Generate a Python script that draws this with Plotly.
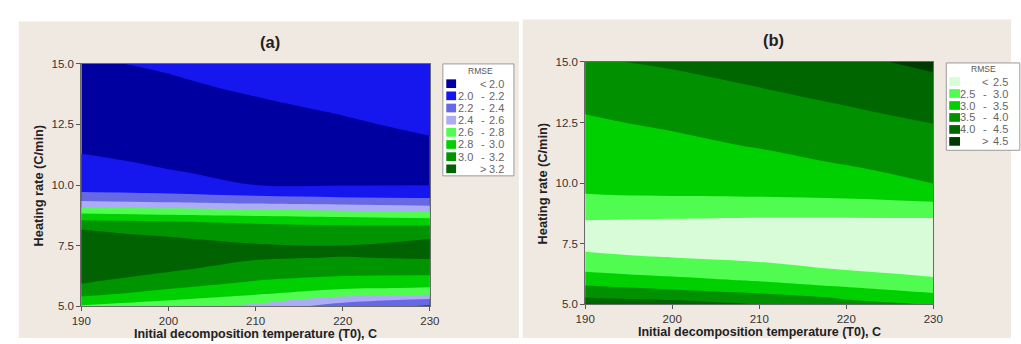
import plotly.graph_objects as go

W, H = 1021, 344

# ---------------- data ----------------
temp_x = [190, 200, 210, 220, 230]

rate_y_a = [5.0, 5.25, 5.5, 5.75, 6.0, 6.5, 7.0, 7.25, 7.5, 8.0, 8.25, 8.5, 8.75, 9.0, 9.25,
            9.5, 9.75, 10.0, 10.5, 11.0, 11.5, 12.0, 12.5, 13.0, 13.5, 14.0, 14.5, 15.0]
rmse_a = [
    [2.78, 2.6, 2.55, 2.3, 2.17],
    [2.925, 2.804, 2.683, 2.48, 2.35],
    [3.055, 2.913, 2.814, 2.679, 2.636],
    [3.162, 3.015, 2.9, 2.821, 2.788],
    [3.217, 3.09, 2.986, 2.928, 2.9],
    [3.268, 3.223, 3.116, 3.077, 3.081],
    [3.32, 3.312, 3.22, 3.193, 3.214],
    [3.296, 3.306, 3.25, 3.24, 3.249],
    [3.271, 3.267, 3.217, 3.201, 3.256],
    [3.222, 3.176, 3.111, 3.092, 3.157],
    [3.188, 3.09, 3.051, 3.036, 3.048],
    [3.036, 3.003, 2.969, 2.933, 2.896],
    [2.854, 2.815, 2.778, 2.746, 2.708],
    [2.667, 2.63, 2.592, 2.55, 2.508],
    [2.467, 2.425, 2.387, 2.356, 2.327],
    [2.283, 2.253, 2.226, 2.198, 2.182],
    [2.183, 2.165, 2.105, 2.076, 2.071],
    [2.152, 2.113, 1.999, 1.995, 1.996],
    [2.088, 2.01, 1.971, 1.966, 1.973],
    [2.024, 1.977, 1.944, 1.937, 1.95],
    [1.983, 1.951, 1.916, 1.93, 1.974],
    [1.955, 1.926, 1.911, 1.955, 1.998],
    [1.928, 1.90, 1.937, 1.98, 2.028],
    [1.90, 1.924, 1.964, 2.007, 2.058],
    [1.92, 1.948, 1.991, 2.04, 2.089],
    [1.94, 1.971, 2.02, 2.073, 2.119],
    [1.96, 1.995, 2.05, 2.107, 2.15],
    [1.98, 2.02, 2.08, 2.14, 2.18],
]

rate_y_b = [5.0, 5.25, 5.5, 5.75, 6.0, 6.25, 6.5, 7.0, 7.5, 8.0, 8.5, 9.0, 9.5, 10.0,
            10.5, 11.0, 11.5, 12.0, 12.5, 13.0, 13.5, 14.0, 14.5, 15.0]
rmse_b = [
    [4.55, 4.3, 3.99, 3.6, 3.48],
    [4.024, 3.872, 3.721, 3.469, 3.219],
    [3.765, 3.606, 3.439, 3.208, 2.967],
    [3.52, 3.356, 3.184, 2.962, 2.758],
    [3.291, 3.115, 2.95, 2.769, 2.55],
    [3.064, 2.912, 2.771, 2.577, 2.45],
    [2.883, 2.743, 2.593, 2.461, 2.385],
    [2.558, 2.463, 2.405, 2.33, 2.255],
    [2.385, 2.332, 2.276, 2.2, 2.178],
    [2.359, 2.358, 2.344, 2.327, 2.317],
    [2.51, 2.487, 2.462, 2.454, 2.456],
    [2.755, 2.759, 2.746, 2.771, 2.821],
    [2.99, 3.015, 3.036, 3.082, 3.207],
    [3.074, 3.106, 3.158, 3.26, 3.512],
    [3.148, 3.198, 3.279, 3.438, 3.611],
    [3.222, 3.29, 3.4, 3.564, 3.71],
    [3.296, 3.382, 3.518, 3.663, 3.81],
    [3.37, 3.473, 3.616, 3.761, 3.909],
    [3.444, 3.569, 3.715, 3.86, 4.009],
    [3.525, 3.667, 3.813, 3.959, 4.127],
    [3.632, 3.765, 3.911, 4.065, 4.245],
    [3.738, 3.863, 4.01, 4.176, 4.363],
    [3.844, 3.961, 4.105, 4.288, 4.481],
    [3.95, 4.06, 4.2, 4.4, 4.6],
]

levels_a = [2.0, 2.2, 2.4, 2.6, 2.8, 3.0, 3.2]
levels_b = [2.5, 3.0, 3.5, 4.0, 4.5]
x_ticks = [190, 200, 210, 220, 230]
y_ticks = [5.0, 7.5, 10.0, 12.5, 15.0]

panel_titles = ["(a)", "(b)"]
x_title = "Initial decomposition temperature (T0), C"
y_title = "Heating rate (C/min)"
legend_title = "RMSE"

# ---------------- styles ----------------
colors_a = ["#0000a0", "#1616ee", "#6668e4", "#acacf6", "#50fc50", "#00d000", "#009400", "#006200"]
colors_b = ["#d8fcd8", "#50fc50", "#00d000", "#009000", "#006600", "#003a00"]
BEIGE = "#f0e9e2"
FONT = "Liberation Sans"


def stepped(colors):
    n = len(colors)
    cs = []
    for i, c in enumerate(colors):
        cs.append([i / n, c])
        cs.append([(i + 1) / n, c])
    return cs


def px(x):
    return x / W


def py(y):
    return 1 - y / H


def contour(x, y, z, levels, colors, xa, ya):
    step = levels[1] - levels[0]
    return go.Contour(
        x=x, y=y, z=z, xaxis=xa, yaxis=ya,
        contours=dict(start=levels[0], end=levels[-1], size=round(step, 6),
                      coloring="fill", showlines=False),
        colorscale=stepped(colors), showscale=False, line=dict(width=0),
        hoverinfo="skip")


fig = go.Figure()
fig.add_trace(contour(temp_x, rate_y_a, rmse_a, levels_a, colors_a, "x", "y"))
fig.add_trace(contour(temp_x, rate_y_b, rmse_b, levels_b, colors_b, "x2", "y2"))

panels = [
    dict(x0=72.7, x1=428.3, y0=60, y1=311, bg=(9, 519, 16), xa="x", ya="y",
         title_xy=(265.5, 37), ytitle_x=29, xtitle_y=339.5,
         leg=dict(x0=441.5, x1=514, y0=60, y1=176, title_y=67, row0=80.5, dy=12.6,
                  sw0=445, sw1=455, lo_r=474, dash_x=482, hi_r=506),
         levels=levels_a, colors=colors_a),
    dict(x0=586.7, x1=941.7, y0=58, y1=309, bg=(523, 1021, 14), xa="x2", ya="y2",
         title_xy=(779, 35), ytitle_x=543, xtitle_y=338,
         leg=dict(x0=955, x1=1030, y0=59, y1=149.5, title_y=65, row0=78.3, dy=12.4,
                  sw0=958, sw1=969, lo_r=986, dash_x=994, hi_r=1020),
         levels=levels_b, colors=colors_b),
]

shapes = []
annotations = []
layout_axes = {}

for i, p in enumerate(panels):
    bx0, bx1, by0 = p["bg"]
    shapes.append(dict(type="rect", xref="paper", yref="paper", layer="below",
                       x0=px(bx0), x1=px(bx1), y0=0, y1=py(by0),
                       fillcolor=BEIGE, line=dict(width=0)))
    sfx = "" if i == 0 else "2"
    axis_common = dict(showgrid=False, zeroline=False, showline=True, mirror=True,
                       linecolor="#6a6a6a", linewidth=1, ticks="outside", ticklen=4,
                       tickcolor="#555", tickfont=dict(family=FONT, size=11.5, color="#333"))
    layout_axes["xaxis" + sfx] = dict(domain=[px(p["x0"]), px(p["x1"])], range=[190, 230],
                                      tickvals=x_ticks, anchor="y" + sfx, **axis_common)
    layout_axes["yaxis" + sfx] = dict(domain=[py(p["y1"]), py(p["y0"])], range=[5, 15],
                                      tickvals=y_ticks, tickformat=".1f", anchor="x" + sfx,
                                      **axis_common)
    # panel title
    tx, ty = p["title_xy"]
    annotations.append(dict(xref="paper", yref="paper", x=px(tx), y=py(ty), showarrow=False,
                            text="<b>%s</b>" % panel_titles[i], xanchor="center", yanchor="middle",
                            font=dict(family=FONT, size=16.5, color="#222")))
    # axis titles
    annotations.append(dict(xref="paper", yref="paper", x=px(p["ytitle_x"]),
                            y=py((p["y0"] + p["y1"]) / 2), showarrow=False, textangle=-90,
                            text="<b>%s</b>" % y_title, xanchor="center", yanchor="middle",
                            font=dict(family=FONT, size=12.8, color="#222")))
    annotations.append(dict(xref="paper", yref="paper", x=px((p["x0"] + p["x1"]) / 2),
                            y=py(p["xtitle_y"]), showarrow=False,
                            text="<b>%s</b>" % x_title, xanchor="center", yanchor="middle",
                            font=dict(family=FONT, size=12.5, color="#222")))
    # legend box
    lg = p["leg"]
    shapes.append(dict(type="rect", xref="paper", yref="paper", layer="above",
                       x0=px(lg["x0"]), x1=px(lg["x1"]), y0=py(lg["y1"]), y1=py(lg["y0"]),
                       fillcolor="white", line=dict(color="#9a9a9a", width=1)))
    annotations.append(dict(xref="paper", yref="paper", x=px((lg["sw0"] + lg["hi_r"]) / 2 + 4),
                            y=py(lg["title_y"]), showarrow=False, text=legend_title,
                            xanchor="center", yanchor="middle",
                            font=dict(family=FONT, size=8.5, color="#555")))
    lev = p["levels"]
    cols = p["colors"]
    for k, c in enumerate(cols):
        yc = lg["row0"] + k * lg["dy"]
        shapes.append(dict(type="rect", xref="paper", yref="paper", layer="above",
                           x0=px(lg["sw0"]), x1=px(lg["sw1"]), y0=py(yc + 4.5), y1=py(yc - 4.5),
                           fillcolor=c, line=dict(width=0)))
        if k == 0:
            parts = [(lg["dash_x"], "<", "center"), (lg["hi_r"], "%.1f" % lev[0], "right")]
        elif k == len(cols) - 1:
            parts = [(lg["dash_x"], ">", "center"), (lg["hi_r"], "%.1f" % lev[-1], "right")]
        else:
            parts = [(lg["lo_r"], "%.1f" % lev[k - 1], "right"), (lg["dash_x"], "-", "center"),
                     (lg["hi_r"], "%.1f" % lev[k], "right")]
        for (xx, t, anc) in parts:
            annotations.append(dict(xref="paper", yref="paper", x=px(xx), y=py(yc),
                                    showarrow=False, text=t, xanchor=anc, yanchor="middle",
                                    font=dict(family=FONT, size=11, color="#666")))

fig.update_layout(
    width=W, height=H, margin=dict(l=0, r=0, t=0, b=0, pad=0),
    paper_bgcolor="white", plot_bgcolor="rgba(0,0,0,0)",
    showlegend=False, shapes=shapes, annotations=annotations,
    font=dict(family=FONT, color="#333"),
    **layout_axes,
)

fig.write_html("out.html")
